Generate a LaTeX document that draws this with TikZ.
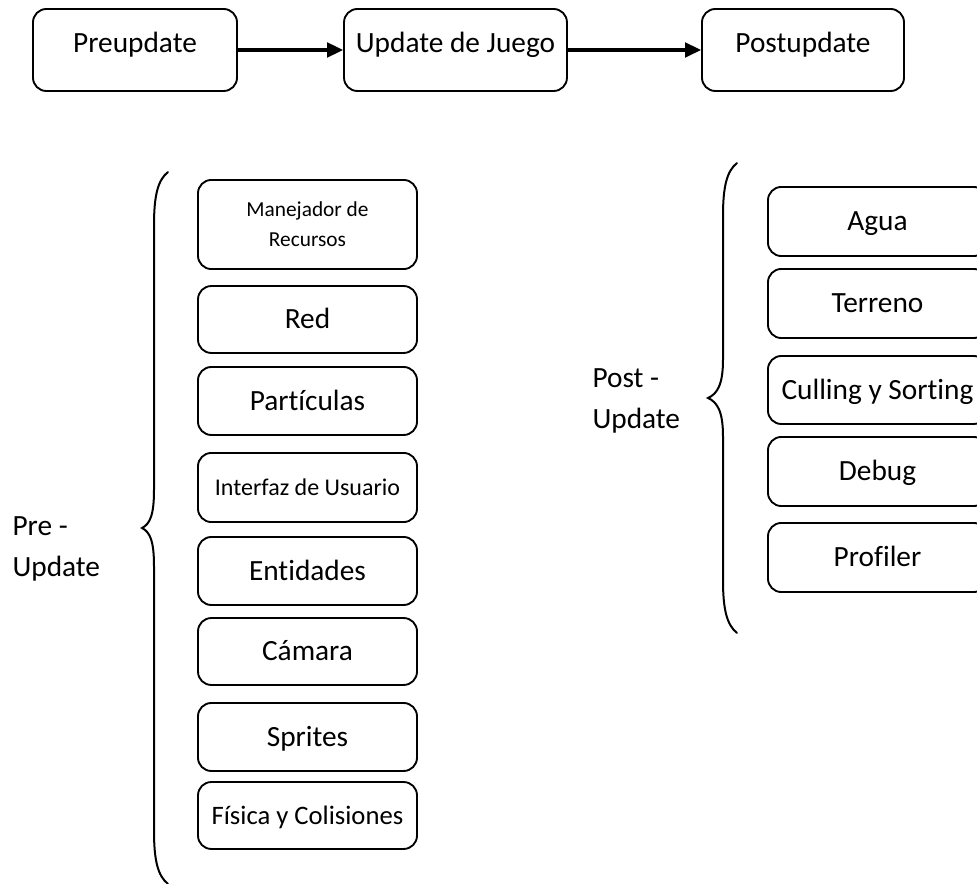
\documentclass[tikz,border=0pt]{standalone}
\usepackage{fontspec}
\setmainfont{Carlito}[Ligatures=NoCommon]
\usetikzlibrary{arrows.meta}

\begin{document}
\begin{tikzpicture}[
  x=0.375pt, y=-0.375pt,
  every node/.style={font=\fontsize{11}{13}\selectfont, text=black},
  flowbox/.style={draw=black, line width=0.7pt, rounded corners=5pt,
    inner xsep=0pt, inner ysep=0pt, minimum height=30.75pt,
    text height=16.5pt, text depth=14.25pt},
  stackbox/.style={draw=black, line width=0.7pt, rounded corners=5pt,
    inner sep=0pt, minimum width=82.125pt, text height=7.1pt, text depth=0pt},
  flowarrow/.style={line width=1.15pt, -{Triangle[length=6pt, width=5.5pt]}},
  bracepath/.style={line width=0.75pt, line cap=round},
  grouplabel/.style={anchor=base west, align=left, inner sep=0pt,
    font=\fontsize{11}{15.4}\selectfont}
]
\useasboundingbox (0,0) rectangle (977,884);
\clip (0,0) rectangle (977,884);

% top flow
\node[flowbox, minimum width=76.5pt]  (pre)  at (135,50)   {Preupdate};
\node[flowbox, minimum width=83.6pt]  (upd)  at (455.5,50) {Update de Juego};
\node[flowbox, minimum width=75.75pt] (post) at (803,50)   {Postupdate};
\draw[flowarrow] (pre.east) -- (upd.west);
\draw[flowarrow] (upd.east) -- (post.west);

% pre-update stack
\node[stackbox, minimum height=33.4pt, text height=16.4pt, text depth=0pt, align=center,
      font=\fontsize{8}{11.25}\selectfont] (man) at (307.5,224.5) {Manejador de\\Recursos};
\node[stackbox, minimum height=25.1pt] (red) at (307.5,319.5) {Red};
\node[stackbox, minimum height=25.5pt] (par) at (307.5,401)   {Partículas};
\node[stackbox, minimum height=25.9pt, text height=5.8pt,
      font=\fontsize{9}{11}\selectfont] (gui) at (307.5,487.5) {Interfaz de Usuario};
\node[stackbox, minimum height=25.5pt] (ent) at (307.5,571)   {Entidades};
\node[stackbox, minimum height=25.1pt] (cam) at (307.5,651.5) {Cámara};
\node[stackbox, minimum height=25.5pt] (spr) at (307.5,737)   {Sprites};
\node[stackbox, minimum height=25.1pt, text height=6.45pt,
      font=\fontsize{10}{12}\selectfont] (fis) at (307.5,815.5) {Física y Colisiones};

% post-update stack
\node[stackbox, minimum height=25.9pt] (agu) at (877.5,221.5) {Agua};
\node[stackbox, minimum height=25.9pt] (ter) at (877.5,303.5) {Terreno};
\node[stackbox, minimum height=25.5pt] (cul) at (877.5,390)   {Culling y Sorting};
\node[stackbox, minimum height=25.9pt] (deb) at (877.5,471.5) {Debug};
\node[stackbox, minimum height=25.9pt] (pro) at (877.5,557.5) {Profiler};

% braces and their labels (label anchored on the baseline of its last line)
\draw[bracepath] (168,172) .. controls (158,180) and (154,195) .. (154,225)
  -- (154,490) .. controls (154,515) and (150,524) .. (142,528)
  .. controls (150,532) and (154,541) .. (154,566)
  -- (154,831) .. controls (154,861) and (158,876) .. (168,884);
\node[grouplabel] (prelabel) at (12,577) {Pre -\\Update};

\draw[bracepath] (737,163) .. controls (727,171) and (723,186) .. (723,216)
  -- (723,360) .. controls (723,385) and (717,394) .. (708,398)
  .. controls (717,402) and (723,411) .. (723,436)
  -- (723,580) .. controls (723,610) and (727,625) .. (737,633);
\node[grouplabel] (postlabel) at (592,429) {Post -\\Update};
\end{tikzpicture}
\end{document}
